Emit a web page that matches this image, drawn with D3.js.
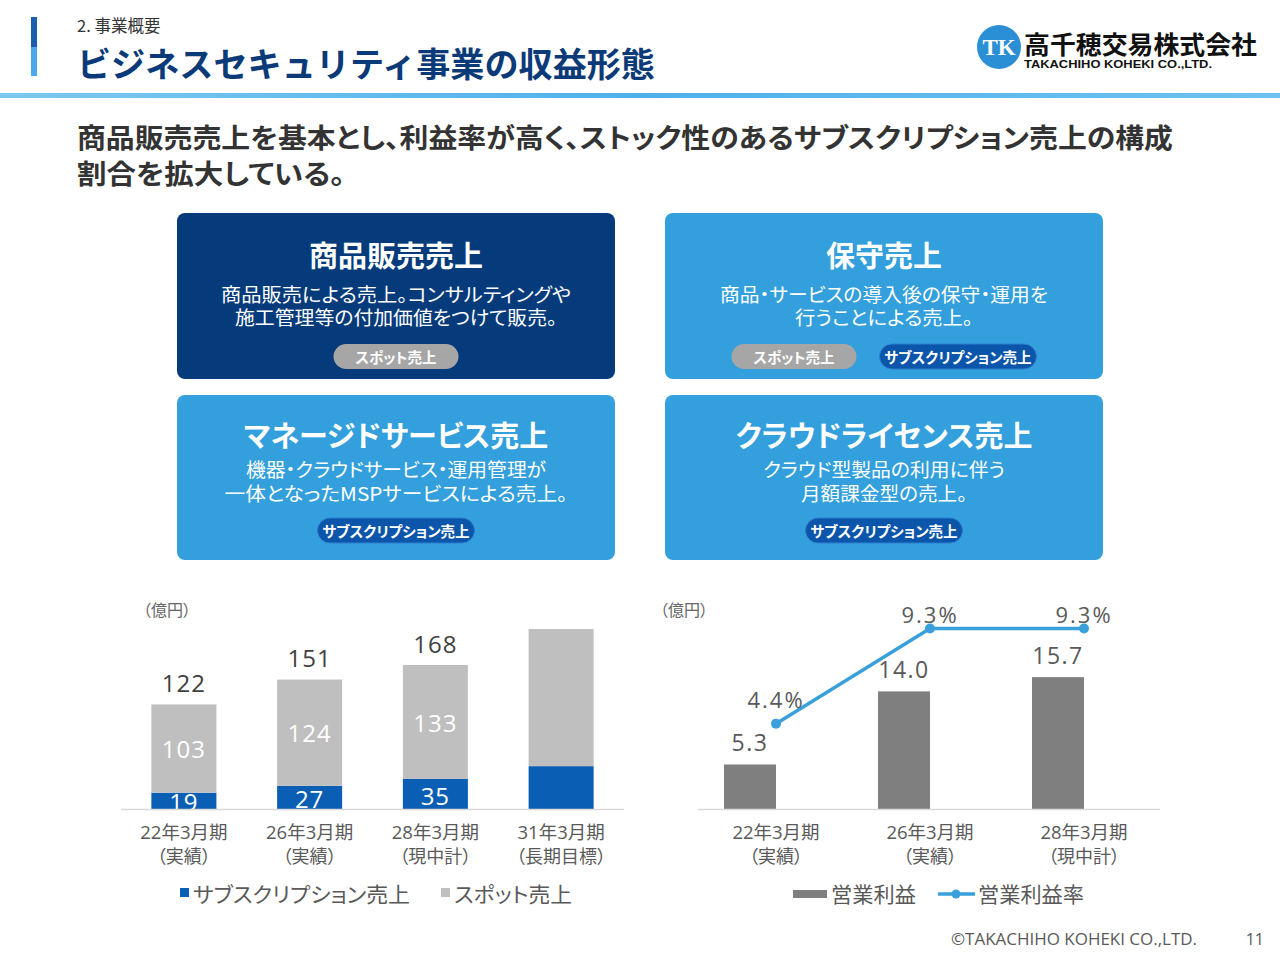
<!DOCTYPE html>
<html>
<head>
<meta charset="utf-8">
<script src="https://cdn.jsdelivr.net/npm/d3@7"></script>
<style>
  body { margin: 0; background: #fff; }
  svg { display: block; font-family: "Noto Sans CJK JP", "Noto Sans", sans-serif; }
  .palt { font-feature-settings: "palt"; }
  .num { font-family: "Open Sans", "Noto Sans CJK JP", sans-serif; }
</style>
</head>
<body>
<script>
//chart data - left: sales split, right: operating profit
var salesCats = ["22年3月期", "26年3月期", "28年3月期", "31年3月期"],
    salesSub = ["（実績）", "（実績）", "（現中計）", "（長期目標）"],
    subscription = [19, 27, 35, 50],
    spot = [103, 124, 133, 160],
    salesLabeled = [true, true, true, false];

var profitCats = ["22年3月期", "26年3月期", "28年3月期"],
    profitSub = ["（実績）", "（実績）", "（現中計）"],
    profit = [5.3, 14.0, 15.7],
    profitRate = [4.4, 9.3, 9.3];

//revenue type boxes
var boxTitles = ["商品販売売上", "保守売上", "マネージドサービス売上", "クラウドライセンス売上"],
    boxLines = [
        ["商品販売による売上。コンサルティングや", "施工管理等の付加価値をつけて販売。"],
        ["商品・サービスの導入後の保守・運用を", "行うことによる売上。"],
        ["機器・クラウドサービス・運用管理が", "一体となったMSPサービスによる売上。"],
        ["クラウド型製品の利用に伴う", "月額課金型の売上。"]
    ],
    boxPills = [["spot"], ["spot", "sub"], ["sub"], ["sub"]];

window.onload = draw();

function draw(){
    var width = 1280, height = 960;

    var svg = d3.select("body").append("svg")
        .attr("width", width)
        .attr("height", height);

    var defs = svg.append("defs");
    var grad = defs.append("linearGradient").attr("id", "hline");
    grad.append("stop").attr("offset", "0%").attr("stop-color", "#7cc8f0");
    grad.append("stop").attr("offset", "50%").attr("stop-color", "#4fb1ea");
    grad.append("stop").attr("offset", "100%").attr("stop-color", "#6ec1ef");

    //header
    svg.append("rect").attr("x", 31).attr("y", 17).attr("width", 6).attr("height", 30).attr("fill", "#1a5fae");
    svg.append("rect").attr("x", 31).attr("y", 47).attr("width", 6).attr("height", 29).attr("fill", "#4aa8ee");
    svg.append("text").attr("x", 77).attr("y", 32)
        .attr("font-size", 16.5).attr("fill", "#333").text("2. 事業概要");
    svg.append("text").attr("x", 77).attr("y", 77)
        .attr("font-size", 34).attr("font-weight", 700).attr("fill", "#0b3a78")
        .attr("textLength", 578).attr("lengthAdjust", "spacingAndGlyphs")
        .text("ビジネスセキュリティ事業の収益形態");
    svg.append("rect").attr("x", 0).attr("y", 93).attr("width", width).attr("height", 5).attr("fill", "url(#hline)");

    //logo
    svg.append("circle").attr("cx", 999).attr("cy", 47).attr("r", 22).attr("fill", "#2a8fd4");
    svg.append("text").attr("x", 999).attr("y", 55).attr("text-anchor", "middle")
        .attr("font-family", "Liberation Serif").attr("font-weight", 700).attr("font-size", 23)
        .attr("fill", "#fff").text("TK");
    svg.append("text").attr("x", 1024).attr("y", 54)
        .attr("font-size", 25).attr("font-weight", 700).attr("fill", "#111")
        .attr("textLength", 233).attr("lengthAdjust", "spacingAndGlyphs").text("高千穂交易株式会社");
    svg.append("text").attr("x", 1024).attr("y", 68)
        .attr("font-family", "Liberation Sans").attr("font-size", 10).attr("font-weight", 700).attr("fill", "#111")
        .attr("textLength", 188).attr("lengthAdjust", "spacingAndGlyphs").text("TAKACHIHO KOHEKI CO.,LTD.");

    //lead text
    svg.append("text").attr("class", "palt").attr("x", 77).attr("y", 148)
        .attr("font-size", 27).attr("font-weight", 700).attr("fill", "#333")
        .attr("textLength", 1096).attr("lengthAdjust", "spacingAndGlyphs")
        .text("商品販売売上を基本とし、利益率が高く、ストック性のあるサブスクリプション売上の構成");
    svg.append("text").attr("class", "palt").attr("x", 77).attr("y", 184)
        .attr("font-size", 27).attr("font-weight", 700).attr("fill", "#333")
        .attr("textLength", 268).attr("lengthAdjust", "spacingAndGlyphs")
        .text("割合を拡大している。");

    drawBoxes(svg);
    drawSales(svg);
    drawProfit(svg);

    //footer
    svg.append("text").attr("class", "num").attr("x", 951).attr("y", 945)
        .attr("font-size", 16).attr("fill", "#595959")
        .attr("textLength", 246).attr("lengthAdjust", "spacingAndGlyphs")
        .text("©TAKACHIHO KOHEKI CO.,LTD.");
    svg.append("text").attr("class", "num").attr("x", 1264).attr("y", 945).attr("text-anchor", "end")
        .attr("font-size", 16).attr("fill", "#595959").text("11");
}

function drawBoxes(svg){
    var boxW = 438, boxH = 166,
        boxX = [177, 665, 177, 665],
        boxY = [213, 213, 395, 395],
        //target widths of description lines
        lineW = [[350, 322], [328, 178], [300, 343], [242, 166]],
        pillW = {spot: 125, sub: 157},
        pillText = {spot: "スポット売上", sub: "サブスクリプション売上"},
        pillFill = {spot: "#a6a6a6", sub: "#0b56aa"};

    //per-row vertical layout (title, desc lines, pill top)
    var rows = [
        {title: 254, l1: 293, l2: 316, pill: 344},
        {title: 434, l1: 468, l2: 492, pill: 518}
    ];

    boxTitles.forEach(function(t, i){
        var g = svg.append("g").attr("class", "box"),
            cx = boxX[i] + boxW / 2,
            r = rows[i < 2 ? 0 : 1];

        g.append("rect")
            .attr("x", boxX[i]).attr("y", boxY[i])
            .attr("width", boxW).attr("height", i < 2 ? boxH : boxH - 1)
            .attr("rx", 8)
            .attr("fill", i === 0 ? "#063b7b" : "#339fdc");

        g.append("text").attr("class", "palt").attr("x", cx).attr("y", r.title)
            .attr("text-anchor", "middle").attr("dominant-baseline", "central")
            .attr("font-size", 29).attr("font-weight", 700).attr("fill", "#fff").text(t);

        g.selectAll(".desc")
            .data(boxLines[i])
            .enter()
            .append("text")
            .attr("class", "desc palt")
            .attr("x", cx)
            .attr("y", function(d, j){ return j === 0 ? r.l1 : r.l2; })
            .attr("text-anchor", "middle").attr("dominant-baseline", "central")
            .attr("font-size", 19).attr("fill", "#fff")
            .attr("textLength", function(d, j){ return lineW[i][j]; })
            .attr("lengthAdjust", "spacingAndGlyphs")
            .text(function(d){ return d; });

        //pills centred as a row
        var pills = boxPills[i], gap = 23,
            total = d3.sum(pills, function(p){ return pillW[p]; }) + gap * (pills.length - 1),
            px = cx - total / 2;
        pills.forEach(function(p){
            g.append("rect").attr("x", px).attr("y", r.pill)
                .attr("width", pillW[p]).attr("height", 25).attr("rx", 12.5)
                .attr("fill", pillFill[p])
                .attr("stroke", p === "sub" ? "#2f7fd0" : "none").attr("stroke-width", 1);
            g.append("text").attr("class", "palt").attr("x", px + pillW[p] / 2).attr("y", r.pill + 12.5)
                .attr("text-anchor", "middle").attr("dominant-baseline", "central")
                .attr("font-size", 14.5).attr("font-weight", 700).attr("fill", "#fff")
                .text(pillText[p]);
            px += pillW[p] + gap;
        });
    });
}

function drawSales(svg){
    var base = 809;
    var x = d3.scaleBand().domain(salesCats).range([121, 624])
        .paddingInner(0.483).paddingOuter(0.2415);
    var y = d3.scaleLinear().domain([0, 210]).range([base, 629]);

    var g = svg.append("g").attr("class", "sales");

    g.append("text").attr("class", "palt").attr("x", 143).attr("y", 616)
        .attr("font-size", 16).attr("fill", "#666").text("（億円）");

    defsClip(svg, "salesClip", 100, 560, 540, base - 560);

    var bars = g.append("g").attr("clip-path", "url(#salesClip)");

    var rows = salesCats.map(function(c, i){
        return {cat: c, sub: subscription[i], spot: spot[i], lab: salesLabeled[i]};
    });

    bars.selectAll(".sub").data(rows).enter().append("rect")
        .attr("class", "sub")
        .attr("x", function(d){ return x(d.cat); })
        .attr("y", function(d){ return y(d.sub); })
        .attr("width", x.bandwidth())
        .attr("height", function(d){ return base - y(d.sub); })
        .attr("fill", "#0a5fb4");

    bars.selectAll(".spot").data(rows).enter().append("rect")
        .attr("class", "spot")
        .attr("x", function(d){ return x(d.cat); })
        .attr("y", function(d){ return y(d.sub + d.spot); })
        .attr("width", x.bandwidth())
        .attr("height", function(d){ return y(d.sub) - y(d.sub + d.spot); })
        .attr("fill", "#bfbfbf");

    var lab = rows.filter(function(d){ return d.lab; });

    bars.selectAll(".subLab").data(lab).enter().append("text")
        .attr("class", "num")
        .attr("x", function(d){ return x(d.cat) + x.bandwidth() / 2; })
        .attr("y", function(d){ return (y(d.sub) + base) / 2 + 1; })
        .attr("text-anchor", "middle").attr("dominant-baseline", "central")
        .attr("font-size", 24).attr("letter-spacing", 1).attr("fill", "#fff")
        .text(function(d){ return d.sub; });

    bars.selectAll(".spotLab").data(lab).enter().append("text")
        .attr("class", "num")
        .attr("x", function(d){ return x(d.cat) + x.bandwidth() / 2; })
        .attr("y", function(d){ return (y(d.sub) + y(d.sub + d.spot)) / 2; })
        .attr("text-anchor", "middle").attr("dominant-baseline", "central")
        .attr("font-size", 24).attr("letter-spacing", 1).attr("fill", "#fff")
        .text(function(d){ return d.spot; });

    g.selectAll(".totLab").data(lab).enter().append("text")
        .attr("class", "num")
        .attr("x", function(d){ return x(d.cat) + x.bandwidth() / 2; })
        .attr("y", function(d){ return y(d.sub + d.spot) - 22; })
        .attr("text-anchor", "middle").attr("dominant-baseline", "central")
        .attr("font-size", 24).attr("letter-spacing", 1).attr("fill", "#404040")
        .text(function(d){ return d.sub + d.spot; });

    g.append("line").attr("x1", 121).attr("x2", 624).attr("y1", base + 0.5).attr("y2", base + 0.5)
        .attr("stroke", "#d9d9d9").attr("stroke-width", 1.5);

    xLabels(g, salesCats, salesSub, function(c){ return x(c) + x.bandwidth() / 2; });

    //legend
    var lg = g.append("g").attr("class", "legend");
    lg.append("rect").attr("x", 180).attr("y", 888).attr("width", 9).attr("height", 9).attr("fill", "#0a5fb4");
    lg.append("text").attr("class", "palt").attr("x", 193).attr("y", 902).attr("font-size", 21).attr("fill", "#595959")
        .attr("textLength", 217).attr("lengthAdjust", "spacingAndGlyphs").text("サブスクリプション売上");
    lg.append("rect").attr("x", 441).attr("y", 888).attr("width", 9).attr("height", 9).attr("fill", "#bfbfbf");
    lg.append("text").attr("class", "palt").attr("x", 454).attr("y", 902).attr("font-size", 21).attr("fill", "#595959")
        .attr("textLength", 118).attr("lengthAdjust", "spacingAndGlyphs").text("スポット売上");
}

function drawProfit(svg){
    var base = 809;
    var x = d3.scaleBand().domain(profitCats).range([698, 1160])
        .paddingInner(0.66).paddingOuter(0.33);
    var y = d3.scaleLinear().domain([0, 20]).range([base, 641]);
    var yRate = d3.scaleLinear().domain([0, 10]).range([base, 615]);
    var bw = 52;
    var cx = function(c){ return x(c) + x.bandwidth() / 2 + 1; };

    var g = svg.append("g").attr("class", "profit");

    g.append("text").attr("class", "palt").attr("x", 660).attr("y", 616)
        .attr("font-size", 16).attr("fill", "#666").text("（億円）");

    var rows = profitCats.map(function(c, i){
        return {cat: c, v: profit[i], r: profitRate[i]};
    });

    //bars sit just left of the category centre
    g.selectAll(".pbar").data(rows).enter().append("rect")
        .attr("class", "pbar")
        .attr("x", function(d){ return cx(d.cat) - bw; })
        .attr("y", function(d){ return y(d.v); })
        .attr("width", bw)
        .attr("height", function(d){ return base - y(d.v); })
        .attr("fill", "#7f7f7f");

    g.selectAll(".pLab").data(rows).enter().append("text")
        .attr("class", "num")
        .attr("x", function(d){ return cx(d.cat) - bw / 2; })
        .attr("y", function(d){ return y(d.v) - 22; })
        .attr("text-anchor", "middle").attr("dominant-baseline", "central")
        .attr("font-size", 23).attr("letter-spacing", 1.5).attr("fill", "#595959")
        .text(function(d){ return d.v.toFixed(1); });

    g.append("line").attr("x1", 698).attr("x2", 1160).attr("y1", base + 0.5).attr("y2", base + 0.5)
        .attr("stroke", "#d9d9d9").attr("stroke-width", 1.5);

    var line = d3.line()
        .x(function(d){ return cx(d.cat); })
        .y(function(d){ return yRate(d.r); });

    g.append("path").datum(rows)
        .attr("d", line)
        .attr("fill", "none").attr("stroke", "#3aa0dc").attr("stroke-width", 3.5);

    g.selectAll(".dot").data(rows).enter().append("circle")
        .attr("cx", function(d){ return cx(d.cat); })
        .attr("cy", function(d){ return yRate(d.r); })
        .attr("r", 5).attr("fill", "#3aa0dc");

    g.selectAll(".rLab").data(rows).enter().append("text")
        .attr("class", "num")
        .attr("x", function(d){ return cx(d.cat); })
        .attr("y", function(d){ return Math.max(yRate(d.r) - 25, 614); })
        .attr("text-anchor", "middle").attr("dominant-baseline", "central")
        .attr("font-size", 22).attr("letter-spacing", 2).attr("fill", "#595959")
        .text(function(d){ return d.r.toFixed(1) + "%"; });

    xLabels(g, profitCats, profitSub, cx);

    //legend
    var lg = g.append("g").attr("class", "legend");
    lg.append("rect").attr("x", 793).attr("y", 890).attr("width", 34).attr("height", 8).attr("fill", "#7f7f7f");
    lg.append("text").attr("x", 831).attr("y", 902).attr("font-size", 21).attr("fill", "#595959")
        .attr("textLength", 85).attr("lengthAdjust", "spacingAndGlyphs").text("営業利益");
    lg.append("line").attr("x1", 938).attr("x2", 975).attr("y1", 894).attr("y2", 894)
        .attr("stroke", "#3aa0dc").attr("stroke-width", 3.5);
    lg.append("circle").attr("cx", 956).attr("cy", 894).attr("r", 4.5).attr("fill", "#3aa0dc");
    lg.append("text").attr("x", 978).attr("y", 902).attr("font-size", 21).attr("fill", "#595959")
        .attr("textLength", 106).attr("lengthAdjust", "spacingAndGlyphs").text("営業利益率");
}

//two-line category labels under the baseline
function xLabels(g, cats, subs, pos){
    g.selectAll(".xl1").data(cats).enter().append("text")
        .attr("class", "num palt")
        .attr("x", function(d){ return pos(d); })
        .attr("y", 839)
        .attr("text-anchor", "middle").attr("font-size", 18.5).attr("fill", "#595959")
        .text(function(d){ return d; });
    g.selectAll(".xl2").data(cats).enter().append("text")
        .attr("class", "palt")
        .attr("x", function(d){ return pos(d); })
        .attr("y", 863)
        .attr("text-anchor", "middle").attr("font-size", 18).attr("fill", "#595959")
        .text(function(d, i){ return subs[i]; });
}

function defsClip(svg, id, x, y, w, h){
    svg.select("defs").append("clipPath").attr("id", id)
        .append("rect").attr("x", x).attr("y", y).attr("width", w).attr("height", h);
}
</script>
</body>
</html>
